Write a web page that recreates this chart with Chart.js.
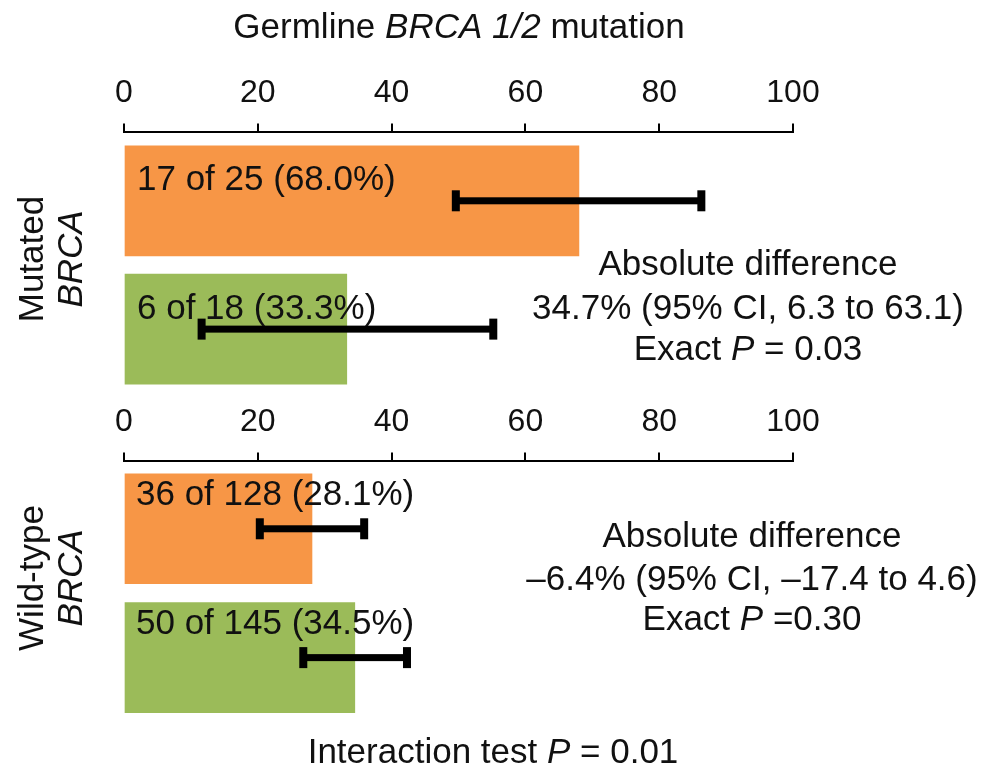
<!DOCTYPE html>
<html>
<head>
<meta charset="utf-8">
<title>Germline BRCA1/2 mutation</title>
<script src="https://cdn.jsdelivr.net/npm/chart.js@4.4.1/dist/chart.umd.min.js"></script>
<style>
  html, body { margin: 0; padding: 0; background: #fff; }
  #wrap { position: relative; width: 982px; height: 769px; overflow: hidden; }
  .panel { position: absolute; left: 0; width: 982px; }
  #topPanel { top: 0; height: 400px; }
  #bottomPanel { top: 380px; height: 389px; }
</style>
</head>
<body>
<div id="wrap">
  <div class="panel" id="topPanel"><canvas id="mutatedChart"></canvas></div>
  <div class="panel" id="bottomPanel"><canvas id="wildChart"></canvas></div>
</div>

<script>
// ---------------- Data ----------------
const xTicks = [0, 20, 40, 60, 80, 100];

const mutatedCounts = [17, 6];
const mutatedTotals = [25, 18];
const mutatedPct = [68.0, 33.3];
const mutatedCiLow = [49.6, 11.6];
const mutatedCiHigh = [86.3, 55.2];

const wildCounts = [36, 50];
const wildTotals = [128, 145];
const wildPct = [28.1, 34.5];
const wildCiLow = [20.3, 26.8];
const wildCiHigh = [35.9, 42.3];

const diffPct = [34.7, -6.4];
const diffCiLow = [6.3, -17.4];
const diffCiHigh = [63.1, 4.6];
const exactP = ['0.03', '0.30'];
const interactionP = '0.01';

const barColors = ['#F79646', '#9BBB59'];

// ---------------- Helpers ----------------
const FONT = '"Liberation Sans", Arial, Helvetica, sans-serif';
const INK = '#111';
const TEXT_SIZE = 35;

function fmt(v) {
  // negative numbers use an en dash, as in print
  return (v < 0 ? '\u2013' : '') + Math.abs(v).toFixed(1);
}

// draw a line of mixed upright/italic runs centred on cx
function drawRuns(ctx, runs, cx, cy, size) {
  const fontFor = it => (it ? 'italic ' : '') + size + 'px ' + FONT;
  let total = 0;
  runs.forEach(([t, it]) => { ctx.font = fontFor(it); total += ctx.measureText(t).width; });
  let x = cx - total / 2;
  ctx.textAlign = 'left';
  ctx.textBaseline = 'middle';
  ctx.fillStyle = INK;
  runs.forEach(([t, it]) => {
    ctx.font = fontFor(it);
    ctx.fillText(t, x, cy);
    x += ctx.measureText(t).width;
  });
}

// error bars, bar labels and the text around each panel
const panelDecor = {
  id: 'panelDecor',
  afterDatasetsDraw(chart, args, opts) {
    const ctx = chart.ctx;
    const xs = chart.scales.x;
    const bars = chart.getDatasetMeta(0).data;
    ctx.save();

    // confidence interval whiskers
    bars.forEach((bar, i) => {
      const x1 = xs.getPixelForValue(opts.ciLow[i]);
      const x2 = xs.getPixelForValue(opts.ciHigh[i]);
      const y = bar.y;
      ctx.fillStyle = '#000';
      ctx.fillRect(x1, y - 3.5, x2 - x1, 7);
      ctx.fillRect(x1 - 4, y - 10.5, 8, 21);
      ctx.fillRect(x2 - 4, y - 10.5, 8, 21);
    });

    // "n of N (pct%)" labels inside the bars
    bars.forEach((bar, i) => {
      ctx.font = TEXT_SIZE + 'px ' + FONT;
      ctx.fillStyle = INK;
      ctx.textAlign = 'left';
      ctx.textBaseline = 'middle';
      const txt = opts.counts[i] + ' of ' + opts.totals[i] + ' (' + opts.pct[i].toFixed(1) + '%)';
      ctx.fillText(txt, xs.getPixelForValue(0) + opts.labelDx, bar.y + opts.labelDy);
    });

    // side group label, rotated
    ctx.save();
    ctx.translate(33, opts.groupY);
    ctx.rotate(-Math.PI / 2);
    drawRuns(ctx, [[opts.group, false]], 0, 0, TEXT_SIZE);
    ctx.restore();
    ctx.save();
    ctx.translate(72, opts.groupY);
    ctx.rotate(-Math.PI / 2);
    drawRuns(ctx, [['BRCA', true]], 0, 0, TEXT_SIZE);
    ctx.restore();

    // absolute difference block
    const k = opts.idx;
    const cx = opts.noteX;
    drawRuns(ctx, [['Absolute difference', false]], cx, opts.noteY[0], TEXT_SIZE);
    drawRuns(ctx, [[fmt(diffPct[k]) + '% (95% CI, ' + fmt(diffCiLow[k]) + ' to ' + fmt(diffCiHigh[k]) + ')', false]], cx, opts.noteY[1], TEXT_SIZE);
    drawRuns(ctx, [['Exact ', false], ['P', true], [opts.eqSep + exactP[k], false]], cx, opts.noteY[2], TEXT_SIZE);

    if (opts.title) drawRuns(ctx, opts.title, 459, 28, TEXT_SIZE);
    if (opts.footer) drawRuns(ctx, opts.footer, 493, opts.footerY, TEXT_SIZE);
    ctx.restore();
  }
};

function makePanel(canvasId, pct, cfg) {
  const ctx = document.getElementById(canvasId).getContext('2d');
  return new Chart(ctx, {
    type: 'bar',
    data: {
      datasets: [{
        data: pct.map((v, i) => ({ x: v, y: i })),
        backgroundColor: barColors,
        borderWidth: 0,
        barThickness: 110
      }]
    },
    options: {
      indexAxis: 'y',
      responsive: true,
      maintainAspectRatio: false,
      animation: false,
      layout: { padding: cfg.padding },
      plugins: {
        legend: { display: false },
        tooltip: { enabled: false },
        panelDecor: cfg.decor
      },
      scales: {
        x: {
          type: 'linear',
          position: 'top',
          min: 0,
          max: 100,
          afterBuildTicks: axis => { axis.ticks = xTicks.map(v => ({ value: v })); },
          ticks: {
            color: INK,
            padding: 11,
            maxRotation: 0,
            font: { family: FONT, size: 32 }
          },
          grid: {
            drawOnChartArea: false,
            drawTicks: true,
            tickLength: 9,
            color: '#000',
            lineWidth: 2
          },
          border: { display: true, color: '#000', width: 2 }
        },
        y: {
          type: 'linear',
          display: false,
          reverse: true,
          offset: false, // bar charts offset the index axis by default
          min: cfg.yMin,
          max: cfg.yMax
        }
      }
    },
    plugins: [panelDecor]
  });
}

// ---------------- Panels ----------------
makePanel('mutatedChart', mutatedPct, {
  padding: { top: 63, left: 124, right: 189, bottom: 8 },
  yMin: -0.533,
  yMax: 1.49,
  decor: {
    idx: 0,
    group: 'Mutated',
    groupY: 259,
    counts: mutatedCounts,
    totals: mutatedTotals,
    pct: mutatedPct,
    ciLow: mutatedCiLow,
    ciHigh: mutatedCiHigh,
    labelDx: 13,
    labelDy: -20,
    noteX: 748,
    noteY: [265, 309, 350],
    eqSep: ' = ',
    title: [['Germline ', false], ['BRCA', true], [' ', false], ['1/2', true], [' mutation', false]]
  }
});

makePanel('wildChart', wildPct, {
  padding: { top: 12, left: 124, right: 189, bottom: 44 },
  yMin: -0.523,
  yMax: 1.523,
  decor: {
    idx: 1,
    group: 'Wild-type',
    groupY: 198,
    counts: wildCounts,
    totals: wildTotals,
    pct: wildPct,
    ciLow: wildCiLow,
    ciHigh: wildCiHigh,
    labelDx: 12,
    labelDy: -33,
    noteX: 752,
    noteY: [157, 200, 240],
    eqSep: ' =',
    footer: [['Interaction test ', false], ['P', true], [' = ' + interactionP, false]],
    footerY: 373
  }
});
</script>
</body>
</html>
